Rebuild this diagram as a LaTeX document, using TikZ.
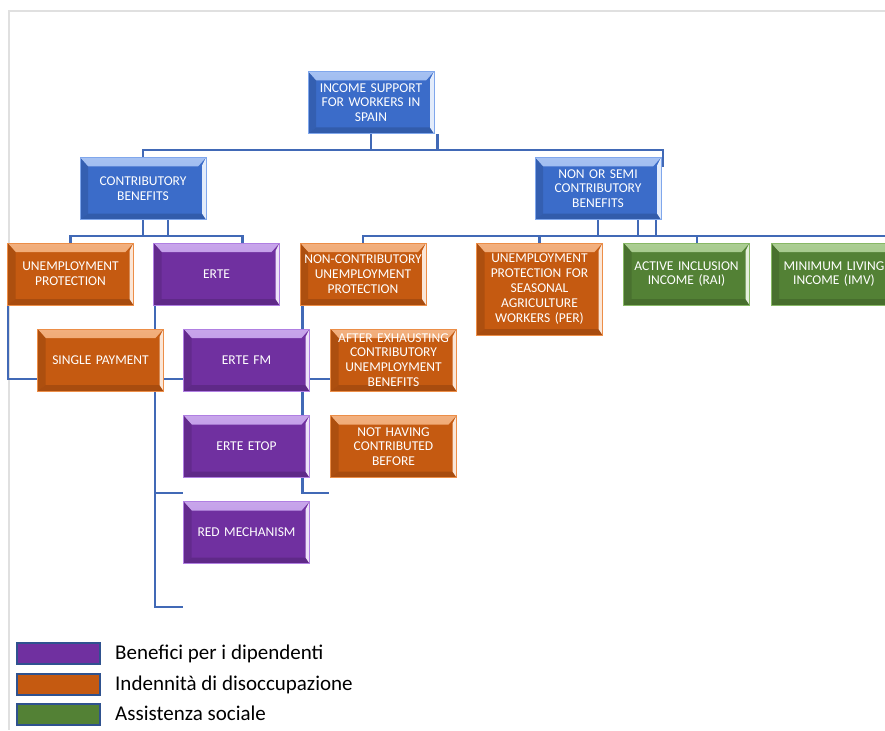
\documentclass[tikz,border=0pt]{standalone}
\usepackage{fontspec}
\setmainfont{Carlito}
\usetikzlibrary{backgrounds}
\definecolor{cblue}{HTML}{3B6CC9}
\definecolor{cbluehi}{HTML}{80A7EC}
\definecolor{corange}{HTML}{C55A11}
\definecolor{corangehi}{HTML}{EC8E48}
\definecolor{cpurple}{HTML}{7030A0}
\definecolor{cpurplehi}{HTML}{B07FE2}
\definecolor{cgreen}{HTML}{538135}
\definecolor{cgreenhi}{HTML}{88B866}
\definecolor{cline}{HTML}{4169B6}
\definecolor{clegb}{HTML}{2F528F}
\tikzset{
  bev/.style 2 args={fill=#1, draw=#2, line width=0.7pt,
    path picture={
      \shade[top color=#2!70!white, bottom color=#2]
        (path picture bounding box.north west) -- (path picture bounding box.north east)
        -- ([xshift=-8pt,yshift=-9pt]path picture bounding box.north east)
        -- ([xshift=8pt,yshift=-9pt]path picture bounding box.north west) -- cycle;
      \fill[#1!88!black]
        (path picture bounding box.north west) -- ([xshift=8pt,yshift=-9pt]path picture bounding box.north west)
        -- ([xshift=8pt,yshift=6pt]path picture bounding box.south west) -- (path picture bounding box.south west) -- cycle;
      \fill[#1!85!black]
        (path picture bounding box.south west) -- ([xshift=8pt,yshift=6pt]path picture bounding box.south west)
        -- ([xshift=-4pt,yshift=6pt]path picture bounding box.south east) -- (path picture bounding box.south east) -- cycle;
      \fill[white!78!#2]
        ([xshift=-4pt,yshift=-8pt]path picture bounding box.north east) -- (path picture bounding box.north east)
        -- (path picture bounding box.south east) -- ([xshift=-4pt,yshift=6pt]path picture bounding box.south east) -- cycle;
    }},
  box/.style={rectangle, inner sep=0pt, minimum width=121pt, minimum height=62pt,
    text width=126pt, align=center, text=white, font=\fontsize{13.5}{14.8}\selectfont},
  bbox/.style={box, bev={cblue}{cbluehi}},
  obox/.style={box, bev={corange}{corangehi}},
  pbox/.style={box, bev={cpurple}{cpurplehi}},
  gbox/.style={box, bev={cgreen}{cgreenhi}},
  conn/.style={draw=cline, line width=2.6pt},
  legbox/.style={rectangle, draw=clegb, line width=2pt, minimum width=83pt, minimum height=21pt, inner sep=0pt},
  legtext/.style={anchor=base west, inner sep=0pt, font=\fontsize{21}{24}\selectfont, text=black},
  frame/.style={draw=black!12, line width=2pt}
}
\begin{document}
\begin{tikzpicture}[x=1pt,y=-1pt]
\useasboundingbox (0,0) rectangle (885,730);
% nodes
\node[bbox] (top) at (371,102.5) {INCOME SUPPORT\\FOR WORKERS IN\\SPAIN};
\node[bbox] (contrib) at (143,188.5) {CONTRIBUTORY\\BENEFITS};
\node[bbox] (nsemi) at (598,188.5) {NON OR SEMI\\CONTRIBUTORY\\BENEFITS};
\node[obox] (up) at (70.5,274) {UNEMPLOYMENT\\PROTECTION};
\node[pbox] (erte) at (216.5,274) {ERTE};
\node[obox] (nc) at (363,274) {NON-CONTRIBUTORY\\UNEMPLOYMENT\\PROTECTION};
\node[obox, minimum width=123pt, minimum height=92pt] (per) at (539.5,289) {UNEMPLOYMENT\\PROTECTION FOR\\SEASONAL\\AGRICULTURE\\WORKERS (PER)};
\node[gbox] (rai) at (686.5,274) {ACTIVE INCLUSION\\INCOME (RAI)};
\node[gbox] (imv) at (834,274) {MINIMUM LIVING\\INCOME (IMV)};
\node[obox] (sp) at (100.5,360) {SINGLE PAYMENT};
\node[pbox] (fm) at (246.5,360) {ERTE FM};
\node[pbox] (etop) at (246.5,446.5) {ERTE ETOP};
\node[pbox] (red) at (246.5,532.5) {RED MECHANISM};
\node[obox] (after) at (393.5,360) {AFTER EXHAUSTING\\CONTRIBUTORY\\UNEMPLOYMENT\\BENEFITS};
\node[obox] (noth) at (393.5,446.5) {NOT HAVING\\CONTRIBUTED\\BEFORE};
% legend
\node[legbox, fill=cpurple] (lg1) at (58.5,653.5) {};
\node[legbox, fill=corange] (lg2) at (58.5,684) {};
\node[legbox, fill=cgreen] (lg3) at (58.5,714) {};
\node[legtext] (lt1) at (115,659.5) {Benefici per i dipendenti};
\node[legtext] (lt2) at (115,690) {Indennità di disoccupazione};
\node[legtext] (lt3) at (115,720) {Assistenza sociale};
% helper coordinates
\coordinate (b1) at (0,150);
\coordinate (b1e) at (663,150);
\coordinate (b1t) at (663,167);
\coordinate (b2) at (0,236);
\coordinate (b2e) at (892,236);
\coordinate (t2) at ([xshift=3pt]top.south east);
\coordinate (c2) at ([xshift=25pt]contrib.south);
\coordinate (e2) at ([xshift=26pt]erte.north);
\coordinate (n2) at ([xshift=40pt]nsemi.south);
\coordinate (n3) at ([xshift=58pt]nsemi.south);
\coordinate (r2) at ([xshift=10.5pt]rai.north);
\coordinate (u1) at ([xshift=1pt]up.south west);
\coordinate (u1e) at (37,379);
\coordinate (e1) at ([xshift=2pt]erte.south west);
\coordinate (es1) at (184,379);
\coordinate (es2) at (183,493);
\coordinate (es3) at (183,607);
\coordinate (k1) at ([xshift=3pt]nc.south west);
\coordinate (ks1) at (330,379);
\coordinate (ks2) at (329,493);
\begin{scope}[on background layer]
  \draw[frame] (8,11) -- (885,11);
  \draw[frame] (9,11) -- (9,730);
  \draw[conn] (top.south) -- (top.south |- b1);
  \draw[conn] (t2) -- (t2 |- b1);
  \draw[conn] (contrib.north) -- (contrib.north |- b1) -- (b1e) -- (b1t);
  \draw[conn] (contrib.south) -- (contrib.south |- b2);
  \draw[conn] (c2) -- (c2 |- b2);
  \draw[conn] (up.north) -- (up.north |- b2) -- (e2 |- b2) -- (e2);
  \draw[conn] (nsemi.south) -- (nsemi.south |- b2);
  \draw[conn] (n2) -- (n2 |- b2);
  \draw[conn] (n3) -- (n3 |- b2);
  \draw[conn] (nc.north) -- (nc.north |- b2) -- (b2e);
  \draw[conn] (per.north |- b2) -- (per.north);
  \draw[conn] (r2 |- b2) -- (r2);
  \draw[conn] (u1) |- (u1e);
  \draw[conn] (e1) |- (es3);
  \draw[conn] (e1 |- es1) -- (es1);
  \draw[conn] (e1 |- es2) -- (es2);
  \draw[conn] (k1) |- (ks2);
  \draw[conn] (k1 |- ks1) -- (ks1);
\end{scope}
\end{tikzpicture}
\end{document}
